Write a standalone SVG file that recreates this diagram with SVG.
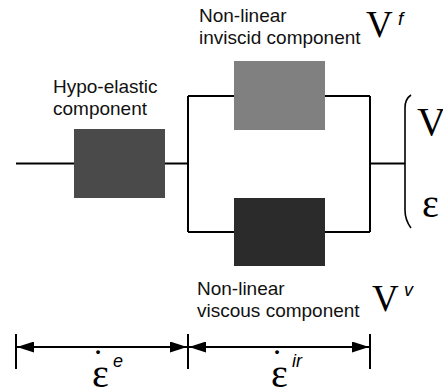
<svg xmlns="http://www.w3.org/2000/svg" width="443" height="390" viewBox="0 0 443 390">
  <style>
    .wire { fill: none; stroke: #000; stroke-width: 2; }
    .label { font-family: "Liberation Sans", Arial, sans-serif; font-size: 19px; fill: #111; }
    .sym { font-family: "Liberation Serif", "Times New Roman", serif; fill: #000; }
    .sup { font-family: "Liberation Sans", Arial, sans-serif; font-style: italic; fill: #000; }
  </style>
  <defs>
    <marker id="arrow" viewBox="0 0 17 11" refX="17" refY="5.5" markerWidth="17" markerHeight="11" markerUnits="userSpaceOnUse" orient="auto-start-reverse">
      <path d="M0 0 L17 5.5 L0 11 Z" fill="#000"/>
    </marker>
  </defs>

  <rect width="443" height="390" fill="#fff"/>

  <!-- connectors -->
  <g id="connectors" class="wire">
    <path d="M16 163.5 H74"/>
    <path d="M165 163.5 H188"/>
    <path d="M188 96 V232"/>
    <path d="M188 96 H234 M325 96 H370"/>
    <path d="M188 232 H234 M325 232 H370"/>
    <path d="M370 96 V232"/>
    <path d="M370 163.5 H405"/>
    <!-- brace grouping output quantities -->
    <path d="M411 95 Q405 99 405 108 V210 Q405 220 411 228" stroke-width="1.6"/>
    <!-- strain-rate dimension lines -->
    <path d="M16 334 V369 M188 334 V369 M370 334 V369"/>
    <path d="M17 347 H187" marker-start="url(#arrow)" marker-end="url(#arrow)"/>
    <path d="M189 347 H369" marker-start="url(#arrow)" marker-end="url(#arrow)"/>
  </g>

  <!-- hypo-elastic element -->
  <g id="hypo-elastic">
    <rect x="74" y="129" width="91" height="69" fill="#4a4a4a"/>
    <text class="label" x="53" y="93">Hypo-elastic</text>
    <text class="label" x="53" y="115">component</text>
  </g>

  <!-- non-linear inviscid element -->
  <g id="inviscid">
    <rect x="234" y="61" width="91" height="69" fill="#808080"/>
    <text class="label" x="199" y="22">Non-linear</text>
    <text class="label" x="199" y="44">inviscid component</text>
    <text class="sym" x="366" y="37" font-size="37">V</text>
    <text class="sup" x="398" y="25" font-size="19">f</text>
  </g>

  <!-- non-linear viscous element -->
  <g id="viscous">
    <rect x="234" y="198" width="91" height="68" fill="#2b2b2b"/>
    <text class="label" x="197" y="295">Non-linear</text>
    <text class="label" x="197" y="317">viscous component</text>
    <text class="sym" x="372" y="311" font-size="37">V</text>
    <text class="sup" x="404" y="296" font-size="18">v</text>
  </g>

  <!-- output quantities -->
  <g id="outputs">
    <text class="sym" x="417" y="135" font-size="40">V</text>
    <text class="sym" x="422" y="217" font-size="40">ε</text>
  </g>

  <!-- strain-rate labels: epsilon with rate dot and superscript -->
  <g id="rates">
    <text class="sym" x="92" y="387" font-size="40">ε</text>
    <text class="sym" x="98" y="374" font-size="36" text-anchor="middle">˙</text>
    <text class="sup" x="113" y="367" font-size="18">e</text>
    <text class="sym" x="271" y="387" font-size="40">ε</text>
    <text class="sym" x="277" y="374" font-size="36" text-anchor="middle">˙</text>
    <text class="sup" x="292" y="367" font-size="18">ir</text>
  </g>
</svg>
